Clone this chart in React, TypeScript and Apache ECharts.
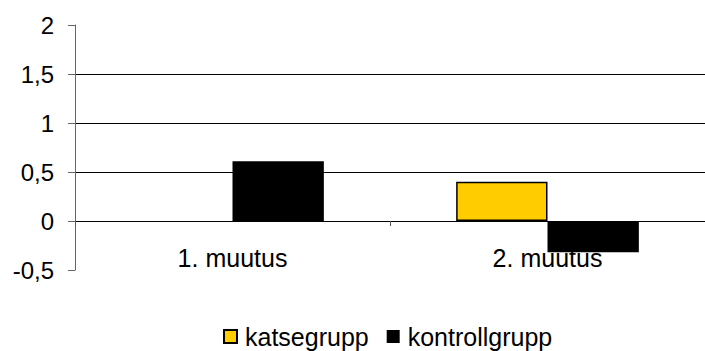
import React, { useEffect, useRef } from "react";
import * as echarts from "echarts";

const categories = ["1. muutus", "2. muutus"];
const katsegrupp: (number | null)[] = [null, 0.4];
const kontrollgrupp: number[] = [0.61, -0.32];
const seriesNames = ["katsegrupp", "kontrollgrupp"];

const FONT = "'Liberation Sans', Arial, sans-serif";

export default function App() {
  const ref = useRef<HTMLDivElement>(null);

  useEffect(() => {
    if (!ref.current) return;
    const chart = echarts.init(ref.current, undefined, { renderer: "svg" });
    chart.setOption({
      animation: false,
      backgroundColor: "#fff",
      textStyle: { fontFamily: FONT },
      grid: { left: 75, right: 0, top: 25, bottom: 81 },
      legend: {
        top: 324,
        left: 223,
        padding: 0,
        itemWidth: 13,
        itemHeight: 13,
        itemGap: 18,
        icon: "rect",
        textStyle: { fontSize: 25, color: "#000", fontFamily: FONT, padding: [0, 0, 0, 3] },
        data: seriesNames,
      },
      xAxis: [
        {
          // zero-line axis with the category divider tick
          type: "category",
          data: categories,
          axisLine: { onZero: true, lineStyle: { color: "#000", width: 1 } },
          axisTick: { show: true, length: 5, lineStyle: { color: "#555" } },
          axisLabel: { show: false },
        },
        {
          // category names sit just above the bottom of the plot
          type: "category",
          data: categories,
          position: "bottom",
          axisLine: { show: false, onZero: false },
          axisTick: { show: false },
          axisLabel: { fontSize: 25, color: "#000", margin: -25, fontFamily: FONT },
        },
      ],
      yAxis: {
        type: "value",
        min: -0.5,
        max: 2,
        interval: 0.5,
        axisLine: { show: true, lineStyle: { color: "#666", width: 1 } },
        axisTick: { show: true, length: 7, lineStyle: { color: "#666" } },
        axisLabel: {
          fontSize: 24,
          color: "#000",
          margin: 21,
          fontFamily: FONT,
          formatter: (v: number) => String(v).replace(".", ","),
        },
        splitLine: {
          show: true,
          lineStyle: {
            color: ["transparent", "#000", "#000", "#000", "#000", "transparent"],
            width: 1,
          },
        },
      },
      series: [
        {
          name: seriesNames[0],
          type: "bar",
          data: katsegrupp,
          barGap: "0%",
          barCategoryGap: "42%",
          itemStyle: { color: "#FFCC00", borderColor: "#000", borderWidth: 1.5 },
        },
        {
          name: seriesNames[1],
          type: "bar",
          data: kontrollgrupp,
          itemStyle: { color: "#000" },
        },
      ],
    });
    return () => chart.dispose();
  }, []);

  return <div ref={ref} style={{ width: 705, height: 351, position: "absolute", left: 0, top: 0 }} />;
}
